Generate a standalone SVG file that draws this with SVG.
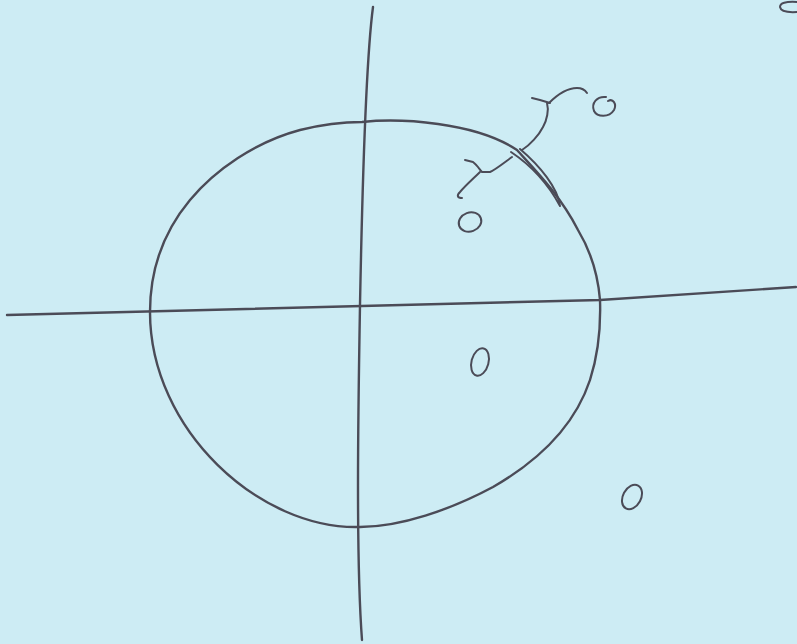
<svg xmlns="http://www.w3.org/2000/svg" width="797" height="644" viewBox="0 0 797 644">
<style>
.ink{fill:none;stroke:#4b4b57;stroke-width:2.4;stroke-linecap:round;stroke-linejoin:round}
.thin{fill:none;stroke:#4b4b57;stroke-width:2;stroke-linecap:round;stroke-linejoin:round}
</style>
<rect width="797" height="644" fill="#cdecf4"/>
<g id="axes">
<path class="ink" d="M373,7 C366,60 362,200 360,305 C358,420 356,560 362,640"/>
<path class="ink" d="M7,315 L362,306 L600,300 Q700,293 796,287"/>
</g>
<g id="contour">
<path class="ink" d="M362,122 C400,118 475,122 517,150 C535,170 560,195 578,230 C590,250 598,275 600,300 C601,330 598,355 590,380 C575,425 540,460 493,487 C450,510 400,527 360,527 C260,530 150,430 150,312 C150,265 165,230 190,200 C215,170 255,142 300,130 C320,125 340,122 362,122 Z"/>
<path class="thin" d="M511,152 C526,162 546,180 560,206 C558,188 540,166 520,149"/>
</g>
<g id="branch-marks">
<path class="thin" d="M532,98 L540,100 L550,103"/>
<path class="thin" d="M549,103 C556,96 567,88 577,88 C582,88 585,90 587,93"/>
<path class="thin" d="M547,103 C549,110 547,120 543,127 C539,135 530,145 522,150"/>
<path class="thin" d="M465,160 L473,162 C477,165 480,170 482,172 L490,172 C495,170 505,162 512,157"/>
<path class="thin" d="M480,172 C474,178 466,185 460,192 C456,196 458,198 462,198"/>
</g>
<g id="poles">
<path class="thin" d="M606,97 C597,96 591,103 594,111 C597,117 609,118 614,110 C617,104 613,98 608,101"/>
<ellipse class="thin" cx="470" cy="222" rx="11.5" ry="9.5" transform="rotate(-20 470 222)"/>
<ellipse class="thin" cx="480" cy="362" rx="8.5" ry="14" transform="rotate(15 480 362)"/>
<ellipse class="thin" cx="632" cy="497" rx="9" ry="13" transform="rotate(28 632 497)"/>
<path class="thin" d="M797,2 Q780,1 780,7 Q781,13 797,12"/>
</g>
</svg>
